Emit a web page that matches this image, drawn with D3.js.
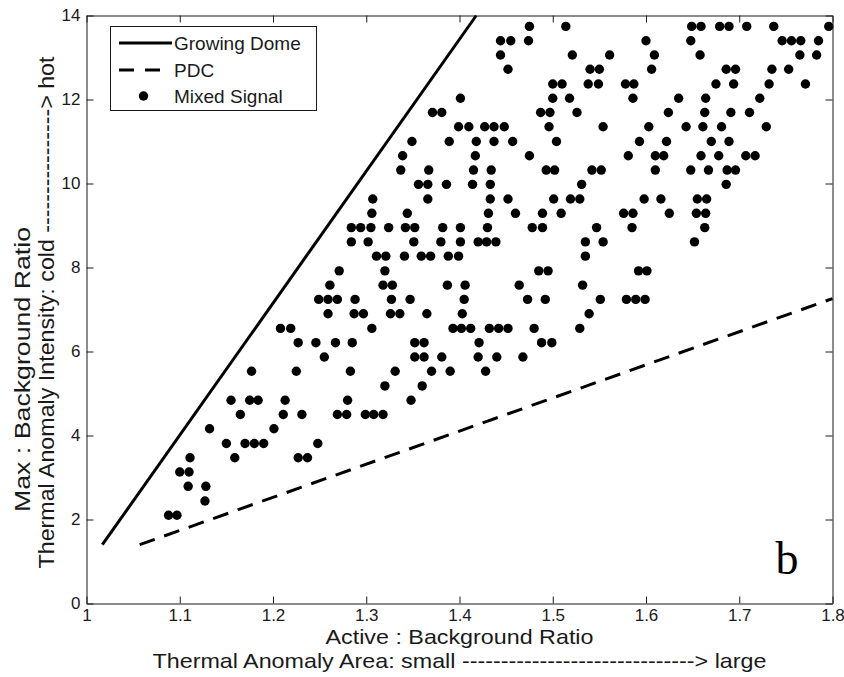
<!DOCTYPE html>
<html><head><meta charset="utf-8">
<script src="https://cdn.jsdelivr.net/npm/d3@7/dist/d3.min.js"></script>
<style>body{margin:0;background:#fff}svg{display:block}</style>
</head><body><svg id="c" width="844" height="677"></svg>
<script>
const xTicks = [1, 1.1, 1.2, 1.3, 1.4, 1.5, 1.6, 1.7, 1.8];
const yTicks = [0, 2, 4, 6, 8, 10, 12, 14];
const growingDome = [[1.017, 1.4], [1.418, 14]];
const pdc = [[1.057, 1.4], [1.8, 7.26]];
const rowLevels = [2.10, 2.44, 2.79, 3.13, 3.47, 3.81, 4.16, 4.50, 4.84, 5.18, 5.53, 5.87, 6.21, 6.55, 6.90, 7.24, 7.58, 7.92, 8.27, 8.61, 8.95, 9.29, 9.63, 9.98, 10.32, 10.66, 11.00, 11.35, 11.69, 12.03, 12.37, 12.72, 13.06, 13.40, 13.74];
const rowPoints = [
  [1.088, 1.097],
  [1.127],
  [1.109, 1.128],
  [1.100, 1.110],
  [1.111, 1.159, 1.227, 1.237],
  [1.150, 1.170, 1.180, 1.190, 1.248],
  [1.132, 1.201],
  [1.165, 1.211, 1.231, 1.269, 1.279, 1.299, 1.308, 1.318],
  [1.155, 1.175, 1.184, 1.213, 1.280, 1.348],
  [1.320, 1.360],
  [1.177, 1.225, 1.283, 1.331, 1.370, 1.390, 1.428],
  [1.255, 1.352, 1.362, 1.381, 1.420, 1.440, 1.468],
  [1.227, 1.246, 1.267, 1.285, 1.352, 1.362, 1.421, 1.488, 1.499],
  [1.208, 1.219, 1.306, 1.393, 1.402, 1.412, 1.432, 1.442, 1.452, 1.480, 1.529],
  [1.259, 1.287, 1.297, 1.326, 1.336, 1.365, 1.403, 1.539],
  [1.249, 1.259, 1.269, 1.288, 1.327, 1.347, 1.405, 1.473, 1.492, 1.551, 1.579, 1.589, 1.599],
  [1.261, 1.318, 1.328, 1.387, 1.406, 1.464, 1.532],
  [1.271, 1.320, 1.485, 1.495, 1.592, 1.601],
  [1.311, 1.321, 1.341, 1.359, 1.369, 1.388, 1.399, 1.535],
  [1.284, 1.302, 1.351, 1.380, 1.401, 1.420, 1.429, 1.439, 1.535, 1.554, 1.652],
  [1.284, 1.294, 1.305, 1.324, 1.342, 1.352, 1.382, 1.401, 1.430, 1.478, 1.489, 1.547, 1.585, 1.663],
  [1.306, 1.344, 1.431, 1.460, 1.489, 1.509, 1.576, 1.586, 1.625, 1.654, 1.664],
  [1.307, 1.366, 1.433, 1.452, 1.501, 1.519, 1.529, 1.598, 1.616, 1.655, 1.665],
  [1.356, 1.366, 1.386, 1.414, 1.433, 1.531, 1.686],
  [1.337, 1.367, 1.415, 1.434, 1.493, 1.502, 1.542, 1.552, 1.610, 1.648, 1.667, 1.687, 1.696],
  [1.339, 1.417, 1.475, 1.581, 1.610, 1.619, 1.659, 1.678, 1.707, 1.717],
  [1.349, 1.389, 1.418, 1.437, 1.457, 1.504, 1.593, 1.622, 1.670, 1.689],
  [1.399, 1.410, 1.427, 1.437, 1.448, 1.496, 1.554, 1.603, 1.643, 1.661, 1.681, 1.729],
  [1.371, 1.381, 1.487, 1.497, 1.526, 1.624, 1.663, 1.691, 1.711],
  [1.401, 1.500, 1.518, 1.586, 1.635, 1.664, 1.722],
  [1.500, 1.510, 1.538, 1.549, 1.578, 1.587, 1.675, 1.694, 1.732, 1.771],
  [1.452, 1.540, 1.550, 1.606, 1.686, 1.696, 1.735, 1.753],
  [1.444, 1.521, 1.561, 1.609, 1.658, 1.765, 1.783],
  [1.444, 1.455, 1.474, 1.600, 1.648, 1.746, 1.756, 1.766, 1.785],
  [1.475, 1.514, 1.649, 1.659, 1.679, 1.689, 1.708, 1.737, 1.796]
];
const legendLabels = ["Growing Dome", "PDC", "Mixed Signal"];
const xLabelLines = ["Active : Background Ratio", "Thermal Anomaly Area: small ------------------------------> large"];
const yLabelLines = ["Max : Background Ratio", "Thermal Anomaly Intensity: cold ----------------> hot"];
const panelLetter = "b";

const svg = d3.select("#c");
const FONT = "'Liberation Sans', Arial, Helvetica, sans-serif";
const x = d3.scaleLinear().domain([1, 1.8]).range([86.5, 832.5]);
const y = d3.scaleLinear().domain([0, 14]).range([603.5, 15.5]);

const points = [];
rowLevels.forEach((lv, i) => rowPoints[i].forEach(v => points.push([v, lv])));

const line = d3.line().x(d => x(d[0])).y(d => y(d[1]));
svg.append("path").datum(growingDome).attr("d", line)
  .attr("fill", "none").attr("stroke", "#000").attr("stroke-width", 3);
svg.append("path").datum(pdc).attr("d", line)
  .attr("fill", "none").attr("stroke", "#000").attr("stroke-width", 3)
  .attr("stroke-dasharray", "16,10");

svg.append("g").selectAll("circle").data(points).join("circle")
  .attr("cx", d => x(d[0])).attr("cy", d => y(d[1])).attr("r", 4.7).attr("fill", "#000");

function styleAxis(g) {
  g.selectAll("path.domain").attr("stroke", "#1a1a1a").attr("stroke-width", 1);
  g.selectAll(".tick line").attr("stroke", "#1a1a1a");
  g.selectAll(".tick text").attr("font-family", FONT).attr("font-size", 17).attr("fill", "#1a1a1a");
}
const fmt = d => String(+d.toFixed(1));
svg.append("g").attr("transform", `translate(0,${y(0)})`)
  .call(d3.axisBottom(x).tickValues(xTicks).tickFormat(fmt).tickSize(-7).tickSizeOuter(0).tickPadding(5))
  .call(styleAxis);
svg.append("g").attr("transform", `translate(0,${y(14)})`)
  .call(d3.axisTop(x).tickValues(xTicks).tickFormat("").tickSize(-7).tickSizeOuter(0))
  .call(styleAxis);
svg.append("g").attr("transform", `translate(${x(1)},0)`)
  .call(d3.axisLeft(y).tickValues(yTicks).tickFormat(d3.format("d")).tickSize(-7).tickSizeOuter(0).tickPadding(6))
  .call(styleAxis);
svg.append("g").attr("transform", `translate(${x(1.8)},0)`)
  .call(d3.axisRight(y).tickValues(yTicks).tickFormat("").tickSize(-7).tickSizeOuter(0))
  .call(styleAxis);

// x labels
const cx = (x(1) + x(1.8)) / 2;
svg.append("text").attr("x", cx).attr("y", 644).attr("text-anchor", "middle")
  .attr("font-family", FONT).attr("font-size", 21).attr("fill", "#1a1a1a")
  .attr("textLength", 268).attr("lengthAdjust", "spacingAndGlyphs").text(xLabelLines[0]);
svg.append("text").attr("x", cx).attr("y", 668).attr("text-anchor", "middle")
  .attr("font-family", FONT).attr("font-size", 21).attr("fill", "#1a1a1a")
  .attr("textLength", 614).attr("lengthAdjust", "spacingAndGlyphs").text(xLabelLines[1]);

// y labels
const cy = (y(0) + y(14)) / 2;
svg.append("text").attr("transform", `translate(30,${cy + 60}) rotate(-90)`).attr("text-anchor", "middle")
  .attr("font-family", FONT).attr("font-size", 22).attr("fill", "#1a1a1a")
  .attr("textLength", 285).attr("lengthAdjust", "spacingAndGlyphs").text(yLabelLines[0]);
svg.append("text").attr("transform", `translate(54,${cy + 3}) rotate(-90)`).attr("text-anchor", "middle")
  .attr("font-family", FONT).attr("font-size", 22).attr("fill", "#1a1a1a")
  .attr("textLength", 512).attr("lengthAdjust", "spacingAndGlyphs").text(yLabelLines[1]);

// legend
const lg = svg.append("g");
lg.append("rect").attr("x", 110.5).attr("y", 26.5).attr("width", 206).attr("height", 84)
  .attr("fill", "#fff").attr("stroke", "#1a1a1a").attr("stroke-width", 1);
const rows = [43, 70, 96];
lg.append("line").attr("x1", 119).attr("x2", 172).attr("y1", rows[0]).attr("y2", rows[0])
  .attr("stroke", "#000").attr("stroke-width", 3);
lg.append("line").attr("x1", 119).attr("x2", 160).attr("y1", rows[1]).attr("y2", rows[1])
  .attr("stroke", "#000").attr("stroke-width", 3).attr("stroke-dasharray", "15,11");
lg.append("circle").attr("cx", 143.5).attr("cy", rows[2]).attr("r", 4.7).attr("fill", "#000");
legendLabels.forEach((t, i) => {
  lg.append("text").attr("x", 174).attr("y", rows[i] + 7).attr("font-family", FONT)
    .attr("font-size", 19).attr("fill", "#1a1a1a").text(t);
});

svg.append("text").attr("x", 787).attr("y", 574).attr("text-anchor", "middle")
  .attr("font-family", "'Liberation Serif', 'Times New Roman', serif").attr("font-size", 46)
  .attr("fill", "#000").text(panelLetter);
</script></body></html>
